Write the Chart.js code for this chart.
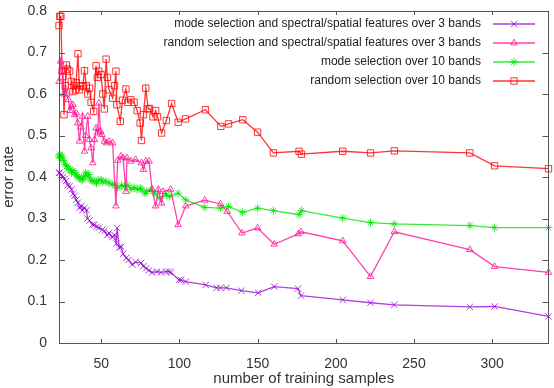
<!DOCTYPE html>
<html>
<head>
<meta charset="utf-8">
<script src="https://cdn.jsdelivr.net/npm/chart.js@4.4.0/dist/chart.umd.min.js"></script>
<style>
  body { margin: 0; background: #fff; }
  #wrap { width: 554px; height: 388px; }
</style>
</head>
<body>
<div id="wrap"><canvas id="myChart" width="554" height="388"></canvas></div>
<script>
// tick labels
const xTicks = [50, 100, 150, 200, 250, 300];
const yTicks = [0, 0.1, 0.2, 0.3, 0.4, 0.5, 0.6, 0.7, 0.8];

const seriesNames = [
  'mode selection and spectral/spatial features over 3 bands',
  'random selection and spectral/spatial features over 3 bands',
  'mode selection over 10 bands',
  'random selection over 10 bands'
];

// mode selection + spectral/spatial, 3 bands
const modeSpecX = [23, 23.5, 24.5, 25.5, 26.5, 27.5, 28.5, 29.8, 31, 32, 33, 34, 35, 36.1, 37.4, 38, 39.3, 40.6, 41.2, 42.5, 44.4, 45.7, 47, 48.5, 50.7, 52, 53.9, 55, 57, 58.5, 59.6, 60.2, 61.5, 62.8, 64, 66, 67.5, 69.8, 72, 75.5, 77, 78.7, 80.5, 82.5, 85.7, 88.2, 91.4, 93.3, 94.6, 99.7, 101, 104.1, 116.8, 123.8, 126.3, 130.1, 139.6, 150.4, 160.6, 175.8, 177.7, 204.4, 222.2, 237.4, 285.7, 301.5, 336];
const modeSpecY = [0.41, 0.41, 0.405, 0.40, 0.395, 0.39, 0.38, 0.378, 0.37, 0.36, 0.355, 0.345, 0.338, 0.326, 0.33, 0.32, 0.326, 0.32, 0.30, 0.295, 0.285, 0.285, 0.28, 0.278, 0.273, 0.27, 0.26, 0.265, 0.255, 0.26, 0.24, 0.277, 0.23, 0.232, 0.215, 0.205, 0.2, 0.189, 0.195, 0.193, 0.185, 0.18, 0.175, 0.17, 0.172, 0.17, 0.172, 0.172, 0.17, 0.152, 0.152, 0.148, 0.14, 0.133, 0.133, 0.133, 0.126, 0.121, 0.136, 0.131, 0.114, 0.104, 0.097, 0.092, 0.087, 0.088, 0.064];

// random selection + spectral/spatial, 3 bands
const randSpecX = [23, 24, 25, 26, 27, 28, 29, 30, 31, 31.9, 33, 34, 35, 36.1, 37, 38, 39.3, 40, 41.4, 42.5, 43.5, 44.6, 45.7, 46.7, 47.8, 48.5, 49.5, 50.5, 52, 53.5, 55, 57.3, 59.4, 60.5, 62.6, 64, 65.8, 66.5, 69, 72, 75.7, 77, 78.5, 80.6, 82.5, 84.8, 86.5, 88.6, 89.5, 94.4, 99.2, 104, 116.2, 126.3, 130.5, 140, 150, 160.6, 176, 177.7, 204.4, 222.2, 237.4, 285.7, 301.5, 336];
const randSpecY = [0.63, 0.679, 0.655, 0.6, 0.614, 0.6, 0.586, 0.56, 0.57, 0.574, 0.55, 0.554, 0.53, 0.486, 0.52, 0.546, 0.462, 0.5, 0.546, 0.49, 0.47, 0.434, 0.49, 0.518, 0.506, 0.578, 0.51, 0.502, 0.486, 0.482, 0.486, 0.482, 0.33, 0.44, 0.45, 0.446, 0.365, 0.446, 0.438, 0.442, 0.434, 0.418, 0.438, 0.438, 0.37, 0.33, 0.37, 0.337, 0.365, 0.37, 0.285, 0.33, 0.344, 0.335, 0.317, 0.265, 0.277, 0.238, 0.263, 0.268, 0.246, 0.16, 0.268, 0.225, 0.184, 0.17];

// mode selection, 10 bands
const mode10X = [23, 23.5, 24, 25, 26, 27, 28, 29, 30, 31, 32, 33, 34, 35, 36, 37, 38, 39, 40, 41, 42, 43, 44, 45.5, 47, 48, 50, 51, 53, 55, 57, 59, 60.5, 63, 65, 67, 69, 71, 73, 75, 76, 78, 79, 81.7, 84.2, 87.4, 91.6, 93.8, 99.2, 104, 116.2, 126.3, 131.4, 140.4, 150, 160.1, 176.5, 178, 204.4, 222.2, 237.4, 285.7, 301.5, 336];
const mode10Y = [0.45, 0.455, 0.446, 0.45, 0.44, 0.43, 0.426, 0.42, 0.418, 0.41, 0.415, 0.41, 0.405, 0.401, 0.398, 0.395, 0.393, 0.4, 0.41, 0.405, 0.406, 0.395, 0.39, 0.39, 0.385, 0.393, 0.393, 0.388, 0.39, 0.385, 0.383, 0.38, 0.373, 0.38, 0.377, 0.38, 0.37, 0.375, 0.37, 0.373, 0.369, 0.36, 0.365, 0.369, 0.361, 0.349, 0.357, 0.353, 0.361, 0.345, 0.327, 0.325, 0.329, 0.315, 0.325, 0.319, 0.309, 0.319, 0.301, 0.29, 0.287, 0.283, 0.278, 0.278];

// random selection, 10 bands
const rand10X = [23, 23.5, 24.2, 25, 25.5, 26.2, 27, 27.7, 28.5, 29.8, 30.9, 31.9, 32.5, 33.5, 34, 35.1, 36.1, 37, 38.2, 39.3, 40.5, 41.4, 42.5, 43.5, 45.2, 46.7, 47.5, 48.4, 49.9, 51, 52, 53.1, 54, 55, 57.3, 58.5, 59.4, 60, 62.2, 63.6, 65.8, 67, 69, 71, 73, 74.9, 75.7, 77, 78.5, 80, 81, 83.1, 84.8, 86, 88.6, 91.6, 95, 99.2, 103.9, 116.6, 126.5, 131.4, 140.5, 150, 160.1, 176.5, 178, 204.4, 222.2, 237.4, 285.7, 301.5, 336];
const rand10Y = [0.765, 0.787, 0.787, 0.655, 0.642, 0.55, 0.62, 0.67, 0.66, 0.655, 0.63, 0.606, 0.62, 0.61, 0.627, 0.697, 0.61, 0.62, 0.618, 0.656, 0.62, 0.6, 0.614, 0.58, 0.558, 0.668, 0.64, 0.655, 0.647, 0.6, 0.564, 0.684, 0.64, 0.61, 0.59, 0.62, 0.655, 0.574, 0.534, 0.585, 0.612, 0.58, 0.586, 0.58, 0.56, 0.53, 0.488, 0.55, 0.614, 0.564, 0.565, 0.545, 0.56, 0.545, 0.506, 0.536, 0.577, 0.532, 0.54, 0.562, 0.522, 0.528, 0.538, 0.508, 0.458, 0.462, 0.455, 0.462, 0.458, 0.463, 0.458, 0.427, 0.42];

const FONT = 'Liberation Sans, Arial, Helvetica, sans-serif';

function toPoints(xs, ys) {
  return xs.map((x, i) => ({ x: x, y: ys[i] }));
}

function makeSet(label, xs, ys, color, style, radius) {
  return {
    label: label,
    data: toPoints(xs, ys),
    borderColor: color,
    backgroundColor: 'rgba(0,0,0,0)',
    pointBorderColor: color,
    pointBackgroundColor: 'rgba(0,0,0,0)',
    pointStyle: style,
    pointRadius: radius,
    pointBorderWidth: 1,
    borderWidth: 1.3,
    tension: 0,
    clip: false
  };
}

// axis frame, mirrored inward ticks and gnuplot style key
const framePlugin = {
  id: 'frame',
  afterDatasetsDraw(chart) {
    const ctx = chart.ctx;
    const a = chart.chartArea;
    const xs = chart.scales.x;
    const ys = chart.scales.y;
    ctx.save();
    ctx.strokeStyle = '#555';
    ctx.lineWidth = 1;
    ctx.strokeRect(Math.round(a.left) + 0.5, Math.round(a.top) + 0.5,
      Math.round(a.right - a.left) - 1, Math.round(a.bottom - a.top));
    ctx.beginPath();
    xTicks.forEach(v => {
      const px = Math.round(xs.getPixelForValue(v)) + 0.5;
      ctx.moveTo(px, a.bottom); ctx.lineTo(px, a.bottom - 4);
      ctx.moveTo(px, a.top); ctx.lineTo(px, a.top + 4);
    });
    yTicks.forEach(v => {
      const py = Math.round(ys.getPixelForValue(v)) + 0.5;
      ctx.moveTo(a.left, py); ctx.lineTo(a.left + 6, py);
      ctx.moveTo(a.right, py); ctx.lineTo(a.right - 6, py);
    });
    ctx.stroke();

    // key
    ctx.font = '12px ' + FONT;
    ctx.textAlign = 'right';
    ctx.textBaseline = 'middle';
    chart.data.datasets.forEach((ds, i) => {
      const y = 24 + i * 19;
      ctx.fillStyle = '#222';
      ctx.fillText(ds.label, 481, y);
      ctx.strokeStyle = ds.borderColor;
      ctx.lineWidth = 1.5;
      ctx.beginPath();
      ctx.moveTo(493, y); ctx.lineTo(535, y);
      ctx.stroke();
      ctx.fillStyle = 'rgba(0,0,0,0)';
      ctx.lineWidth = 1;
      Chart.helpers.drawPoint(ctx, {
        pointStyle: ds.pointStyle,
        radius: ds.pointRadius,
        borderWidth: 1
      }, 514, y);
    });
    ctx.restore();
  }
};

const config = {
  type: 'line',
  data: {
    datasets: [
      makeSet(seriesNames[0], modeSpecX, modeSpecY, 'rgba(148,0,211,0.75)', 'crossRot', 4.5),
      makeSet(seriesNames[1], randSpecX, randSpecY, 'rgba(255,20,147,0.8)', 'triangle', 3.8),
      makeSet(seriesNames[2], mode10X, mode10Y, 'rgba(0,230,0,0.8)', 'star', 4),
      makeSet(seriesNames[3], rand10X, rand10Y, 'rgba(255,0,0,0.8)', 'rect', 4.5)
    ]
  },
  options: {
    responsive: false,
    animation: false,
    layout: { padding: { top: 11, right: 1, left: 0, bottom: 0 } },
    plugins: {
      legend: { display: false },
      tooltip: { enabled: false }
    },
    scales: {
      x: {
        type: 'linear',
        min: 23,
        max: 336,
        afterBuildTicks: s => { s.ticks = xTicks.map(v => ({ value: v })); },
        afterFit: s => {
          s.height = 45;
          s.paddingLeft = 0;
          s.paddingRight = 0;
        },
        grid: { display: false, drawTicks: false },
        border: { display: false },
        ticks: { color: '#333', font: { family: FONT, size: 14 }, padding: 13, maxRotation: 0 },
        title: {
          display: true,
          text: 'number of training samples',
          color: '#333',
          font: { family: FONT, size: 15 },
          padding: { top: 0, bottom: 0 }
        }
      },
      y: {
        min: 0,
        max: 0.8,
        afterBuildTicks: s => { s.ticks = yTicks.map(v => ({ value: v })); },
        afterFit: s => {
          s.width = 59;
          s.paddingTop = 0;
          s.paddingBottom = 0;
        },
        grid: { display: false, drawTicks: false },
        border: { display: false },
        ticks: {
          color: '#333',
          font: { family: FONT, size: 14 },
          padding: 12,
          callback: v => String(Math.round(v * 10) / 10)
        },
        title: {
          display: true,
          text: 'error rate',
          color: '#333',
          font: { family: FONT, size: 15 },
          padding: { top: 0, bottom: 2 }
        }
      }
    }
  },
  plugins: [framePlugin]
};

const myChart = new Chart(document.getElementById('myChart'), config);
</script>
</body>
</html>
